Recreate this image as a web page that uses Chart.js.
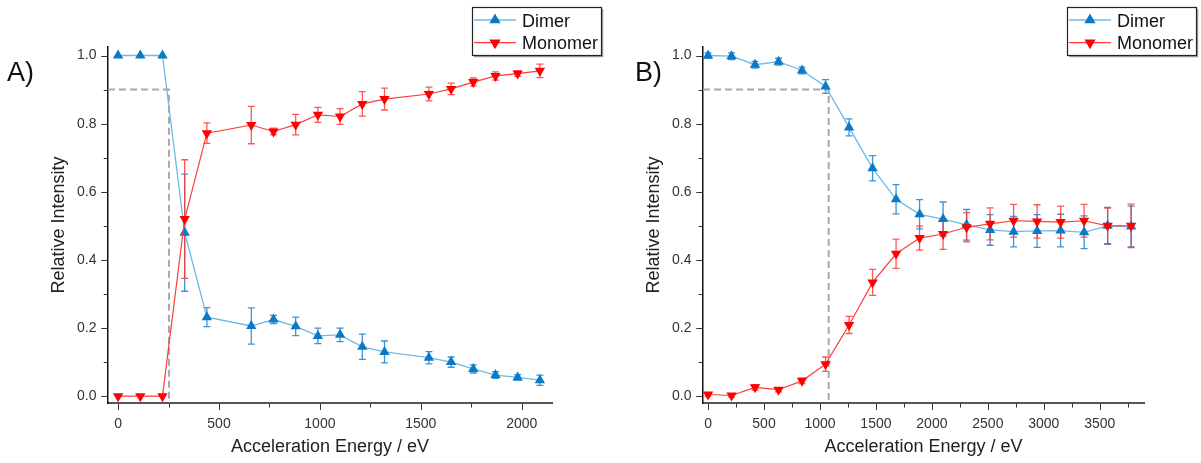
<!DOCTYPE html>
<html><head><meta charset="utf-8">
<script src="https://cdn.jsdelivr.net/npm/chart.js@4.4.1/dist/chart.umd.min.js"></script>
<style>
html,body{margin:0;padding:0;background:#fff;width:1201px;height:463px;overflow:hidden}
#wrapA{position:absolute;left:0;top:0;width:610px;height:463px}
#wrapB{position:absolute;left:600px;top:0;width:601px;height:463px}
</style></head>
<body>
<div id="wrapA"><canvas id="cA"></canvas></div>
<div id="wrapB"><canvas id="cB"></canvas></div>
<script>
// ---------- Panel A data ----------
const A_energy      = [0,110,220,330,440,660,770,880,990,1100,1210,1320,1540,1650,1760,1870,1980,2090];
const A_dimer       = [1.0,1.0,1.0,0.48,0.232,0.206,0.225,0.205,0.177,0.18,0.145,0.13,0.113,0.1,0.08,0.062,0.055,0.047];
const A_dimerErr    = [0,0,0,0.172,0.028,0.053,0.012,0.027,0.023,0.02,0.037,0.032,0.018,0.015,0.012,0.01,0.008,0.015];
const A_monomer     = [0,0,0,0.52,0.772,0.796,0.777,0.797,0.826,0.821,0.858,0.872,0.887,0.902,0.922,0.94,0.947,0.955];
const A_monomerErr  = [0,0,0,0.174,0.03,0.055,0.01,0.03,0.022,0.023,0.036,0.032,0.02,0.017,0.012,0.012,0.008,0.02];
const A_guideX      = [-50,252,252];
const A_guideY      = [0.9,0.9,-0.02];
const A_xTicks      = [0,250,500,750,1000,1250,1500,1750,2000];
const A_xTickLabels = ['0','','500','','1000','','1500','','2000'];

// ---------- Panel B data ----------
const B_energy      = [0,210,420,630,840,1050,1260,1470,1680,1890,2100,2310,2520,2730,2940,3150,3360,3570,3780];
const B_dimer       = [1.0,0.998,0.973,0.982,0.956,0.909,0.789,0.669,0.578,0.534,0.52,0.503,0.488,0.483,0.485,0.486,0.481,0.5,0.498];
const B_dimerErr    = [0.008,0.01,0.01,0.01,0.01,0.02,0.025,0.037,0.043,0.043,0.05,0.045,0.045,0.045,0.048,0.048,0.048,0.054,0.06];
const B_monomer     = [0.005,0.002,0.026,0.019,0.045,0.094,0.209,0.334,0.418,0.464,0.476,0.496,0.506,0.515,0.513,0.511,0.515,0.5,0.5];
const B_monomerErr  = [0.005,0.005,0.008,0.006,0.008,0.021,0.025,0.038,0.043,0.035,0.045,0.043,0.047,0.048,0.049,0.047,0.048,0.052,0.064];
const B_guideX      = [-45,1078,1078];
const B_guideY      = [0.9,0.9,-0.02];
const B_xTicks      = [0,250,500,750,1000,1250,1500,1750,2000,2250,2500,2750,3000,3250,3500,3750];
const B_xTickLabels = ['0','','500','','1000','','1500','','2000','','2500','','3000','','3500',''];

// ---------- shared y ticks ----------
const yTicks      = [0,0.1,0.2,0.3,0.4,0.5,0.6,0.7,0.8,0.9,1.0];
const yTickLabels = ['0.0','','0.2','','0.4','','0.6','','0.8','','1.0'];

const FONT = "'Liberation Sans', Arial, sans-serif";
Chart.defaults.font.family = FONT;

const zip = (xs, ys) => xs.map((x,i)=>({x:x, y:ys[i]}));

function tri(ctx, x, y, r, down){
  ctx.beginPath();
  const s = down ? -1 : 1;
  ctx.moveTo(x, y - s*r);
  ctx.lineTo(x + r*0.866, y + s*r*0.5);
  ctx.lineTo(x - r*0.866, y + s*r*0.5);
  ctx.closePath();
  ctx.fill();
}

const errorBarPlugin = {
  id:'errorBars',
  beforeDatasetsDraw(chart){
    const ctx = chart.ctx, xs = chart.scales.x, ys = chart.scales.y;
    chart.data.datasets.forEach(ds=>{
      if(!ds.errors) return;
      ctx.save();
      ctx.strokeStyle = ds.errColor; ctx.lineWidth = 1.3;
      ds.data.forEach((pt,j)=>{
        const e = ds.errors[j]; if(!e) return;
        const px = xs.getPixelForValue(pt.x);
        const yt = ys.getPixelForValue(pt.y+e), yb = ys.getPixelForValue(pt.y-e);
        ctx.beginPath();
        ctx.moveTo(px,yt); ctx.lineTo(px,yb);
        ctx.moveTo(px-3.5,yt); ctx.lineTo(px+3.5,yt);
        ctx.moveTo(px-3.5,yb); ctx.lineTo(px+3.5,yb);
        ctx.stroke();
      });
      ctx.restore();
    });
  }
};

// outward tick marks: long for labelled (major) ticks, short for minor ticks
const tickPlugin = {
  id:'tickMarks',
  afterDraw(chart){
    const ctx = chart.ctx, a = chart.chartArea, xs = chart.scales.x, ys = chart.scales.y;
    ctx.save();
    ctx.strokeStyle = '#333'; ctx.lineWidth = 1;
    ctx.beginPath();
    xs.ticks.forEach(t=>{
      const len = t.label ? 6 : 3.5;
      const px = Math.round(xs.getPixelForValue(t.value)) + 0.5;
      ctx.moveTo(px, a.bottom + 1); ctx.lineTo(px, a.bottom + 1 + len);
    });
    ys.ticks.forEach(t=>{
      const len = t.label ? 6 : 3.5;
      const py = Math.round(ys.getPixelForValue(t.value)) + 0.5;
      ctx.moveTo(a.left - 0.75, py); ctx.lineTo(a.left - 0.75 - len, py);
    });
    ctx.stroke();
    ctx.restore();
  }
};

const decoPlugin = {
  id:'deco',
  afterDraw(chart, args, o){
    const ctx = chart.ctx;
    ctx.save();
    // panel label
    ctx.fillStyle = '#111';
    ctx.font = '27px ' + FONT;
    ctx.textBaseline = 'alphabetic';
    ctx.fillText(o.panel, o.panelX, 81);
    // legend box
    const L = o.legendLeft, T = 7, W = 129, H = 48;
    ctx.fillStyle = '#fff'; ctx.fillRect(L, T, W, H);
    ctx.strokeStyle = '#a0a0a0'; ctx.lineWidth = 1.5;
    ctx.beginPath(); ctx.moveTo(L+W+1.5, T+2); ctx.lineTo(L+W+1.5, T+H+1.5); ctx.lineTo(L+2, T+H+1.5); ctx.stroke();
    ctx.strokeStyle = '#222'; ctx.lineWidth = 1.2;
    ctx.strokeRect(L+0.5, T+0.5, W, H);
    const items = chart.data.datasets.filter(d=>d.inLegend);
    items.forEach((d,k)=>{
      const cy = T + 13 + k*22.7;
      ctx.strokeStyle = d.borderColor; ctx.lineWidth = 1.3;
      ctx.beginPath(); ctx.moveTo(L+2, cy); ctx.lineTo(L+44, cy); ctx.stroke();
      ctx.fillStyle = d.pointBackgroundColor;
      tri(ctx, L+23, cy, 6.5, d.rotation===180);
      ctx.fillStyle = '#111';
      ctx.font = '18px ' + FONT;
      ctx.fillText(d.label, L+50, cy+6.5);
    });
    ctx.restore();
  }
};

function panelConfig(p){
  return {
    type:'line',
    data:{datasets:[
      {label:'guide', data:zip(p.guideX,p.guideY), borderColor:'#A8A8A8', borderWidth:2, borderDash:[7,4],
       pointRadius:0, order:3, tension:0, inLegend:false},
      {label:'Dimer', data:zip(p.energy,p.dimer), errors:p.dimerErr, errColor:'rgba(20,130,210,0.85)',
       borderColor:'#6DBAE8', borderWidth:1.3, pointStyle:'triangle', pointRadius:6,
       pointBackgroundColor:'#0A7AC6', pointBorderColor:'#0A7AC6', pointBorderWidth:0, order:2, inLegend:true},
      {label:'Monomer', data:zip(p.energy,p.monomer), errors:p.monomerErr, errColor:'rgba(255,55,55,0.85)',
       borderColor:'#FF3A3A', borderWidth:1.2, pointStyle:'triangle', rotation:180, pointRadius:6,
       pointBackgroundColor:'#FF0000', pointBorderColor:'#FF0000', pointBorderWidth:0, order:1, inLegend:true}
    ]},
    options:{
      responsive:true, maintainAspectRatio:false, animation:false, devicePixelRatio:1,
      layout:{padding:{top:47, right:p.padRight, bottom:0, left:0}},
      plugins:{legend:{display:false}, tooltip:{enabled:false},
               deco:{panel:p.panel, panelX:p.panelX, legendLeft:p.legendLeft}},
      scales:{
        x:{type:'linear', min:p.xMin, max:p.xMax,
           afterBuildTicks:s=>{s.ticks = p.xTicks.map(v=>({value:v}));},
           afterFit:s=>{s.height = 60;},
           ticks:{callback:(v,i)=>p.xTickLabels[i], color:'#333', font:{size:14}, padding:12.5, maxRotation:0, autoSkip:false},
           grid:{drawOnChartArea:false, drawTicks:false},
           border:{display:true, color:'#555', width:2},
           title:{display:true, text:'Acceleration Energy / eV', color:'#222', font:{size:18}, padding:{top:0,bottom:5.5}}},
        y:{type:'linear', min:-0.02, max:1.025,
           afterBuildTicks:s=>{s.ticks = yTicks.map(v=>({value:v}));},
           afterFit:s=>{s.width = p.yWidth;},
           ticks:{callback:(v,i)=>yTickLabels[i], color:'#333', font:{size:14}, padding:11.5, autoSkip:false},
           grid:{drawOnChartArea:false, drawTicks:false},
           border:{display:true, color:'#111', width:1.5},
           title:{display:true, text:'Relative Intensity', color:'#222', font:{size:18}, padding:{top:p.yTitlePad,bottom:0}}}
      }
    },
    plugins:[errorBarPlugin, tickPlugin, decoPlugin]
  };
}

new Chart(document.getElementById('cA'), panelConfig({
  energy:A_energy, dimer:A_dimer, dimerErr:A_dimerErr, monomer:A_monomer, monomerErr:A_monomerErr,
  guideX:A_guideX, guideY:A_guideY, xTicks:A_xTicks, xTickLabels:A_xTickLabels,
  xMin:-50, xMax:2150, padRight:58, yWidth:108, yTitlePad:48.7,
  panel:'A)', panelX:7, legendLeft:472
}));
new Chart(document.getElementById('cB'), panelConfig({
  energy:B_energy, dimer:B_dimer, dimerErr:B_dimerErr, monomer:B_monomer, monomerErr:B_monomerErr,
  guideX:B_guideX, guideY:B_guideY, xTicks:B_xTicks, xTickLabels:B_xTickLabels,
  xMin:-45, xMax:3895, padRight:57, yWidth:103, yTitlePad:43.7,
  panel:'B)', panelX:35, legendLeft:467
}));
</script>
</body></html>
